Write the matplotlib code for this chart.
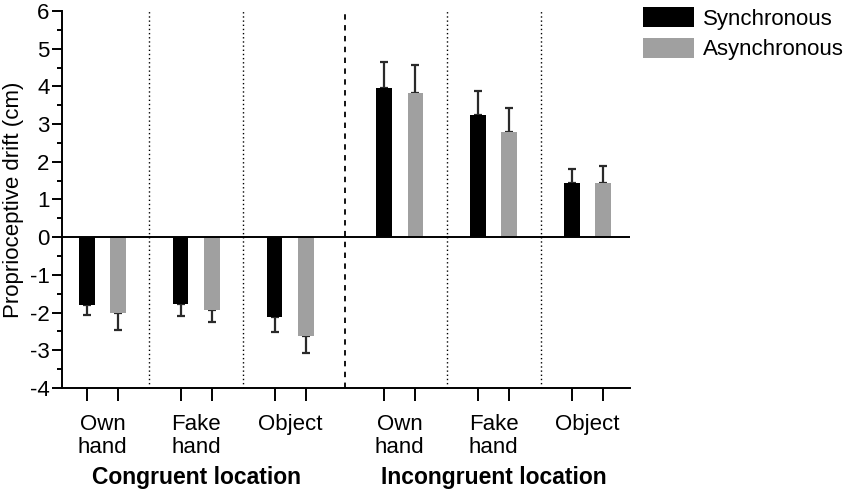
import numpy as np
import matplotlib
matplotlib.use('Agg')
import matplotlib.pyplot as plt
from matplotlib.patches import Patch

plt.rcParams['font.family'] = ['Liberation Sans', 'DejaVu Sans']
plt.rcParams['axes.unicode_minus'] = False

# data
groups = ['Own\nhand', 'Fake\nhand', 'Object', 'Own\nhand', 'Fake\nhand', 'Object']
sync_mean = [-1.80, -1.76, -2.12, 3.97, 3.23, 1.44]
sync_err = [0.27, 0.33, 0.39, 0.68, 0.65, 0.37]
async_mean = [-2.00, -1.94, -2.63, 3.83, 2.80, 1.45]
async_err = [0.47, 0.31, 0.45, 0.74, 0.64, 0.43]
locations = ['Congruent location', 'Incongruent location']

# x layout: two bars per group, extra gap between locations
base = np.array([0, 3, 6, 9.5, 12.5, 15.5])
x_sync = base
x_async = base + 1
w = 0.5

fig = plt.figure(figsize=(8.45, 4.91), dpi=100)
ax = fig.add_axes([0.0734, 0.2098, 0.6722, 0.7678])

def one_sided(mean, err):
    lo = [e if m < 0 else 0 for m, e in zip(mean, err)]
    hi = [e if m >= 0 else 0 for m, e in zip(mean, err)]
    return [lo, hi]

ax.bar(x_sync, sync_mean, w, color='black', zorder=3)
ax.bar(x_async, async_mean, w, color='#a0a0a0', zorder=3)
ax.errorbar(x_sync, sync_mean, yerr=one_sided(sync_mean, sync_err), fmt='none',
            ecolor='#2a2a2a', elinewidth=1.6, capsize=3, capthick=1.6, zorder=2)
ax.errorbar(x_async, async_mean, yerr=one_sided(async_mean, async_err), fmt='none',
            ecolor='#2a2a2a', elinewidth=1.6, capsize=3, capthick=1.6, zorder=2)

ax.set_xlim(-0.79, 17.36)
ax.set_ylim(-4, 6)
ax.axhline(0, color='black', lw=1.4, zorder=4)

# separators
for xs in [2, 5, 11.5, 14.5]:
    ax.axvline(xs, color='black', lw=1, ls=(0, (1, 2)), zorder=1)
ax.axvline(8.25, color='black', lw=1.3, ls=(0, (3, 3)), zorder=1)

for s in ['top', 'right']:
    ax.spines[s].set_visible(False)
ax.spines['left'].set_linewidth(1.4)
ax.spines['bottom'].set_linewidth(1.4)

ax.set_yticks(range(-4, 7))
ax.set_yticks(np.arange(-3.5, 6, 1), minor=True)
ax.tick_params(axis='y', which='major', length=7, width=1.4, labelsize=16, pad=2)
ax.tick_params(axis='y', which='minor', length=3.5, width=1.4)

ax.set_xticks(base + 0.5)
ax.set_xticklabels(groups, fontsize=16, linespacing=1.1)
ax.set_xticks(np.concatenate([x_sync, x_async]), minor=True)
ax.tick_params(axis='x', which='major', length=0, pad=19)
ax.tick_params(axis='x', which='minor', length=9, width=1.4)

ax.set_ylabel('Proprioceptive drift (cm)', fontsize=16, labelpad=4)

ax.text(np.mean(base[:3] + 0.5), -0.208, locations[0], transform=ax.get_xaxis_transform(),
        ha='center', va='top', fontsize=16.5, fontweight='bold')
ax.text(np.mean(base[3:] + 0.5), -0.208, locations[1], transform=ax.get_xaxis_transform(),
        ha='center', va='top', fontsize=16.5, fontweight='bold')

handles = [Patch(facecolor='black', label='Synchronous'),
           Patch(facecolor='#a0a0a0', label='Asynchronous')]
fig.legend(handles=handles, loc='upper left', bbox_to_anchor=(0.761, 0.986),
           frameon=False, fontsize=16, handlelength=2.3, handleheight=1.05,
           handletextpad=0.4, labelspacing=0.35, borderaxespad=0, borderpad=0)

fig.savefig('out.png', dpi=100)
